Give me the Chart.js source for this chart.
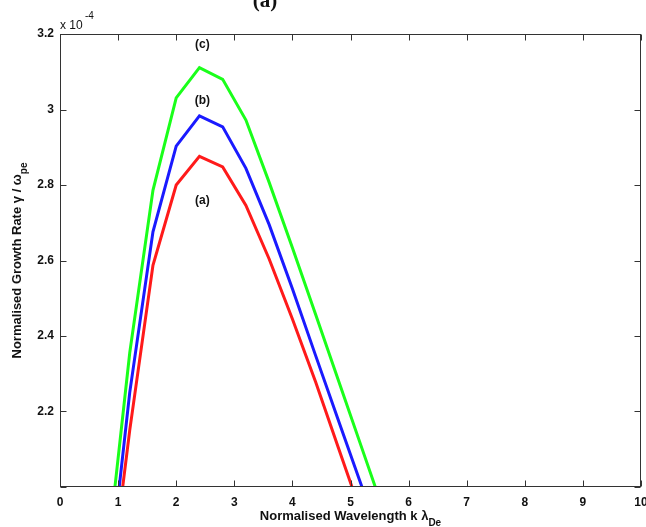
<!DOCTYPE html>
<html>
<head>
<meta charset="utf-8">
<script src="https://cdn.jsdelivr.net/npm/chart.js@4"></script>
<style>
  html, body { margin: 0; padding: 0; background: #fff; }
  #wrap { width: 646px; height: 527px; }
</style>
</head>
<body>
<div id="wrap"><canvas id="growthChart" width="646" height="527"></canvas></div>
<script>
// normalised wavelength k * lambda_De
const kValues = [0.8, 1.2, 1.6, 2.0, 2.4, 2.8, 3.2, 3.6, 4.0, 4.4, 4.8, 5.2, 5.6];
// normalised growth rate gamma / omega_pe, in units of 1e-4
const rateA = [1.654, 2.150, 2.587, 2.800, 2.876, 2.848, 2.746, 2.604, 2.445, 2.278, 2.100, 1.923, 1.750];
const rateB = [1.696, 2.250, 2.676, 2.903, 2.983, 2.954, 2.844, 2.695, 2.525, 2.348, 2.173, 1.999, 1.823];
const rateC = [1.797, 2.355, 2.786, 3.031, 3.111, 3.080, 2.972, 2.807, 2.634, 2.457, 2.279, 2.101, 1.923];
const curveNames = ["(a)", "(b)", "(c)"];
const curveLabelX = [2.45, 2.45, 2.45];
const curveLabelY = [2.758, 3.023, 3.171];
const xTicks = [0, 1, 2, 3, 4, 5, 6, 7, 8, 9, 10];
const yTicks = [2.0, 2.2, 2.4, 2.6, 2.8, 3.0, 3.2];

const axisColor = "#333";
const sans = "'Liberation Sans', Arial, sans-serif";

function toPoints(ys) {
  return kValues.map((k, i) => ({ x: k, y: ys[i] }));
}

// text with a subscript, centred on (cx, baseline)
function drawWithSub(ctx, main, sub, cx, base) {
  ctx.font = `bold 13px ${sans}`;
  const w1 = ctx.measureText(main).width;
  ctx.font = `bold 10px ${sans}`;
  const w2 = ctx.measureText(sub).width;
  const start = cx - (w1 + w2) / 2;
  ctx.textAlign = "left";
  ctx.textBaseline = "alphabetic";
  ctx.font = `bold 13px ${sans}`;
  ctx.fillText(main, start, base);
  ctx.font = `bold 10px ${sans}`;
  ctx.fillText(sub, start + w1, base + 6);
}

const framePlugin = {
  id: "frame",
  afterDatasetsDraw(chart) {
    const { ctx, chartArea: a, scales } = chart;
    const L = Math.round(a.left) + 0.5, R = Math.round(a.right) - 0.5;
    const T = Math.round(a.top) + 0.5, B = Math.round(a.bottom) - 0.5;
    ctx.save();
    ctx.strokeStyle = axisColor;
    ctx.lineWidth = 1;
    ctx.strokeRect(L, T, R - L, B - T);
    ctx.beginPath();
    xTicks.forEach(v => {
      const px = Math.round(scales.x.getPixelForValue(v)) + 0.5;
      ctx.moveTo(px, B); ctx.lineTo(px, B - 6);
      ctx.moveTo(px, T); ctx.lineTo(px, T + 6);
    });
    yTicks.forEach(v => {
      const py = Math.round(scales.y.getPixelForValue(v)) + 0.5;
      ctx.moveTo(L, py); ctx.lineTo(L + 6, py);
      ctx.moveTo(R, py); ctx.lineTo(R - 6, py);
    });
    ctx.stroke();
    ctx.restore();
  },
  afterDraw(chart) {
    const { ctx, chartArea: a, scales } = chart;
    ctx.save();
    ctx.fillStyle = "#111";

    // cut-off panel heading
    ctx.font = "bold 21px 'Liberation Serif', serif";
    ctx.textAlign = "center";
    ctx.textBaseline = "alphabetic";
    ctx.fillText("(a)", 265, 7);

    // exponent
    ctx.textAlign = "left";
    ctx.font = `12px ${sans}`;
    ctx.fillText("x 10", a.left, 29);
    ctx.font = `10px ${sans}`;
    ctx.fillText("-4", a.left + 25, 19);

    // curve labels
    ctx.font = `bold 12px ${sans}`;
    ctx.textAlign = "center";
    ctx.textBaseline = "middle";
    curveNames.forEach((n, i) => {
      ctx.fillText(n, scales.x.getPixelForValue(curveLabelX[i]), scales.y.getPixelForValue(curveLabelY[i]));
    });

    // axis titles
    drawWithSub(ctx, "Normalised Wavelength k \u03bb", "De", (a.left + a.right) / 2, 520);
    ctx.save();
    ctx.translate(21, (a.top + a.bottom) / 2);
    ctx.rotate(-Math.PI / 2);
    drawWithSub(ctx, "Normalised Growth Rate \u03b3 / \u03c9", "pe", 0, 0);
    ctx.restore();

    ctx.restore();
  }
};

const ctx = document.getElementById("growthChart").getContext("2d");
new Chart(ctx, {
  type: "line",
  data: {
    datasets: [
      { label: "(a)", data: toPoints(rateA), borderColor: "#ff1a1a" },
      { label: "(b)", data: toPoints(rateB), borderColor: "#1a1aff" },
      { label: "(c)", data: toPoints(rateC), borderColor: "#1aff1a" }
    ]
  },
  options: {
    responsive: false,
    animation: false,
    devicePixelRatio: 1,
    layout: { padding: { left: 0, right: 5, top: 34, bottom: 0 } },
    elements: {
      line: { borderWidth: 3, tension: 0, fill: false },
      point: { radius: 0 }
    },
    datasets: { line: { clip: 0 } },
    plugins: { legend: { display: false }, tooltip: { enabled: false } },
    scales: {
      x: {
        type: "linear",
        min: 0,
        max: 10,
        grid: { display: false, drawTicks: false },
        border: { display: false },
        afterBuildTicks: s => { s.ticks = xTicks.map(v => ({ value: v })); },
        afterFit: s => { s.height = 40; s.paddingLeft = 0; s.paddingRight = 0; },
        ticks: {
          padding: 8,
          color: "#111",
          font: { family: sans, size: 12, weight: "bold" },
          maxRotation: 0,
          callback: v => String(v)
        }
      },
      y: {
        type: "linear",
        min: 2.0,
        max: 3.2,
        grid: { display: false, drawTicks: false },
        border: { display: false },
        afterBuildTicks: s => { s.ticks = yTicks.map(v => ({ value: v })); },
        afterFit: s => { s.width = 60; s.paddingTop = 0; s.paddingBottom = 0; },
        ticks: {
          padding: 6,
          color: "#111",
          font: { family: sans, size: 12, weight: "bold" },
          callback: v => (v < 2.1 ? "" : String(Math.round(v * 10) / 10))
        }
      }
    }
  },
  plugins: [framePlugin]
});
</script>
</body>
</html>
